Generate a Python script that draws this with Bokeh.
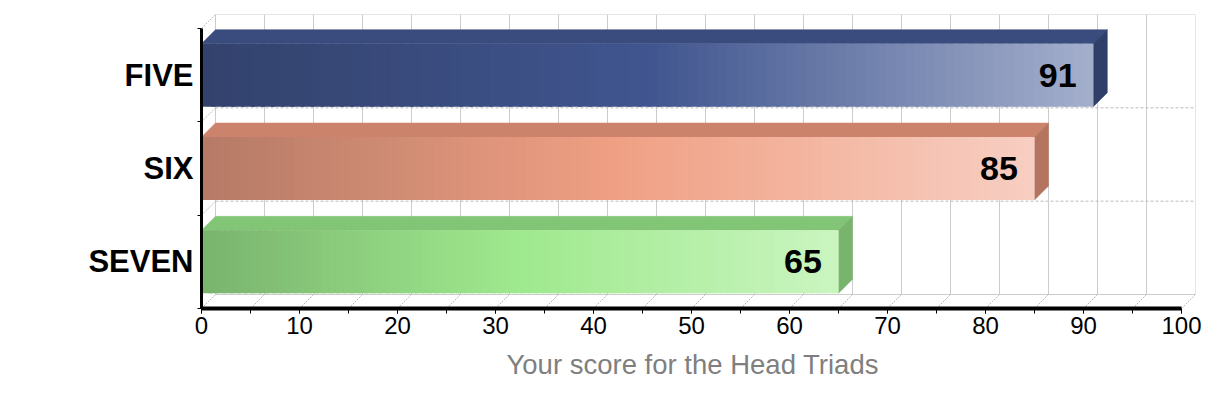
from bokeh.plotting import figure
from bokeh.models import Range1d, FixedTicker, SingleIntervalTicker, ColumnDataSource, Title
from bokeh.core.properties import value
from bokeh.embed import file_html
from bokeh.resources import INLINE

# ---- data ----
categories = ["FIVE", "SIX", "SEVEN"]
scores = [91, 85, 65]
x_ticks = list(range(0, 101, 10))
x_title = "Your score for the Head Triads"

# ---- styles ----
grad_dark = ["#33426c", "#b57a66", "#7ab46e"]
grad_mid = ["#40558f", "#f0a084", "#9fe98e"]
grad_light = ["#a4afcc", "#f7cfc2", "#caf5c0"]
top_col = ["#3a4b7d", "#cc836c", "#82c576"]
side_col = ["#2f3f6a", "#b3755f", "#78b46c"]

FONT = "Liberation Sans"
DX = 14 / 9.8          # depth offset in x data units
DY = 0.15              # depth offset in y data units
HALF = 0.3375          # half bar thickness
XMAX = 100

p = figure(width=1202, height=392, output_backend="svg", toolbar_location=None,
           min_border_left=201, min_border_right=7, min_border_top=14, min_border_bottom=84,
           x_range=Range1d(0, XMAX + DX), y_range=Range1d(-0.5, 2.5 + DY))
p.outline_line_color = None
p.grid.visible = False
p.background_fill_color = "white"
p.border_fill_color = "white"

n = len(categories)
ypos = [n - 1 - i for i in range(n)]  # FIVE at top

# ---- back wall grid ----
grid_x = [t + DX for t in range(0, XMAX + 1, 5)]
p.segment(x0=grid_x, y0=[-0.5 + DY] * len(grid_x), x1=grid_x, y1=[2.5 + DY] * len(grid_x),
          line_color="#cccccc", line_width=1)
p.segment(x0=[DX, DX], y0=[2.5 + DY, -0.5 + DY], x1=[XMAX + DX, XMAX + DX], y1=[2.5 + DY, -0.5 + DY],
          line_color="#cccccc", line_width=1)
bnd = [b + 0.5 for b in range(n - 1)]
p.segment(x0=[DX] * len(bnd), y0=[b + DY for b in bnd], x1=[XMAX + DX] * len(bnd), y1=[b + DY for b in bnd],
          line_color="#bbbbbb", line_width=1, line_dash="3 2")
fx = list(range(0, XMAX + 1, 5))
p.segment(x0=fx, y0=[-0.5] * len(fx), x1=[f + DX for f in fx], y1=[-0.5 + DY] * len(fx),
          line_color="#bbbbbb", line_width=1, line_dash="2 1")
wb = [b + 0.5 for b in range(n)]
p.segment(x0=[0] * len(wb), y0=wb, x1=[DX] * len(wb), y1=[b + DY for b in wb],
          line_color="#bbbbbb", line_width=1, line_dash="2 1")


def hex2rgb(h):
    h = h.lstrip("#")
    return [int(h[i:i + 2], 16) for i in (0, 2, 4)]


def lerp(c1, c2, t):
    a, b = hex2rgb(c1), hex2rgb(c2)
    return "#%02x%02x%02x" % tuple(int(round(a[k] + (b[k] - a[k]) * t)) for k in range(3))


# ---- bars ----
NS = 90
for i, (cat, v) in enumerate(zip(categories, scores)):
    c = ypos[i]
    lo, hi = c - HALF, c + HALF
    p.patch(x=[0, v, v + DX, DX], y=[hi, hi, hi + DY, hi + DY],
            fill_color=top_col[i], line_color=top_col[i], line_width=0.5)
    p.patch(x=[v, v + DX, v + DX, v], y=[lo, lo + DY, hi + DY, hi],
            fill_color=side_col[i], line_color=side_col[i], line_width=0.5)
    lefts, rights, cols = [], [], []
    step = v / NS
    for k in range(NS):
        t = (k + 0.5) / NS
        if t < 0.5:
            col = lerp(grad_dark[i], grad_mid[i], t / 0.5)
        else:
            col = lerp(grad_mid[i], grad_light[i], (t - 0.5) / 0.5)
        lefts.append(step * k)
        rights.append(min(v, step * (k + 1) + 0.4))
        cols.append(col)
    src = ColumnDataSource(dict(left=lefts, right=rights, bottom=[lo] * NS, top=[hi] * NS, col=cols))
    p.quad(left="left", right="right", bottom="bottom", top="top", fill_color="col",
           line_color=None, source=src)

p.text(x=[v - 1.7 for v in scores], y=ypos, text=[str(v) for v in scores],
       text_align="right", text_baseline="middle", text_font=value(FONT),
       text_font_style="bold", text_font_size="34px", text_color="black")

# ---- axes ----
xa = p.xaxis[0]
xa.ticker = SingleIntervalTicker(interval=10, num_minor_ticks=2)
xa.bounds = (0, XMAX)
xa.axis_line_width = 4
xa.axis_line_color = "black"
xa.major_tick_out = 5
xa.major_tick_in = 0
xa.minor_tick_out = 5
xa.minor_tick_in = 0
xa.major_tick_line_color = "black"
xa.minor_tick_line_color = "black"
xa.major_label_text_font = FONT
xa.major_label_text_font_size = "24px"
xa.major_label_text_color = "black"
xa.major_label_standoff = 3

# axis title, placed under the axis bounds (0..100)
p.add_layout(Title(text=x_title, align="left", offset=305, standoff=20,
                   text_font=FONT, text_font_size="27.5px", text_font_style="normal",
                   text_color="#7f7f7f"), "below")

ya = p.yaxis[0]
ya.ticker = FixedTicker(ticks=ypos, minor_ticks=[b - 0.5 for b in range(n + 1)])
ya.major_label_overrides = {ypos[i]: categories[i] for i in range(n)}
ya.bounds = (-0.5, 2.5)
ya.axis_line_width = 3
ya.axis_line_color = "black"
ya.major_tick_out = 0
ya.major_tick_in = 0
ya.minor_tick_out = 4
ya.minor_tick_in = 0
ya.minor_tick_line_color = "black"
ya.major_label_text_font = FONT
ya.major_label_text_font_size = "31px"
ya.major_label_text_font_style = "bold"
ya.major_label_text_color = "black"
ya.major_label_standoff = 4

open("out.html", "w").write(file_html(p, INLINE))
